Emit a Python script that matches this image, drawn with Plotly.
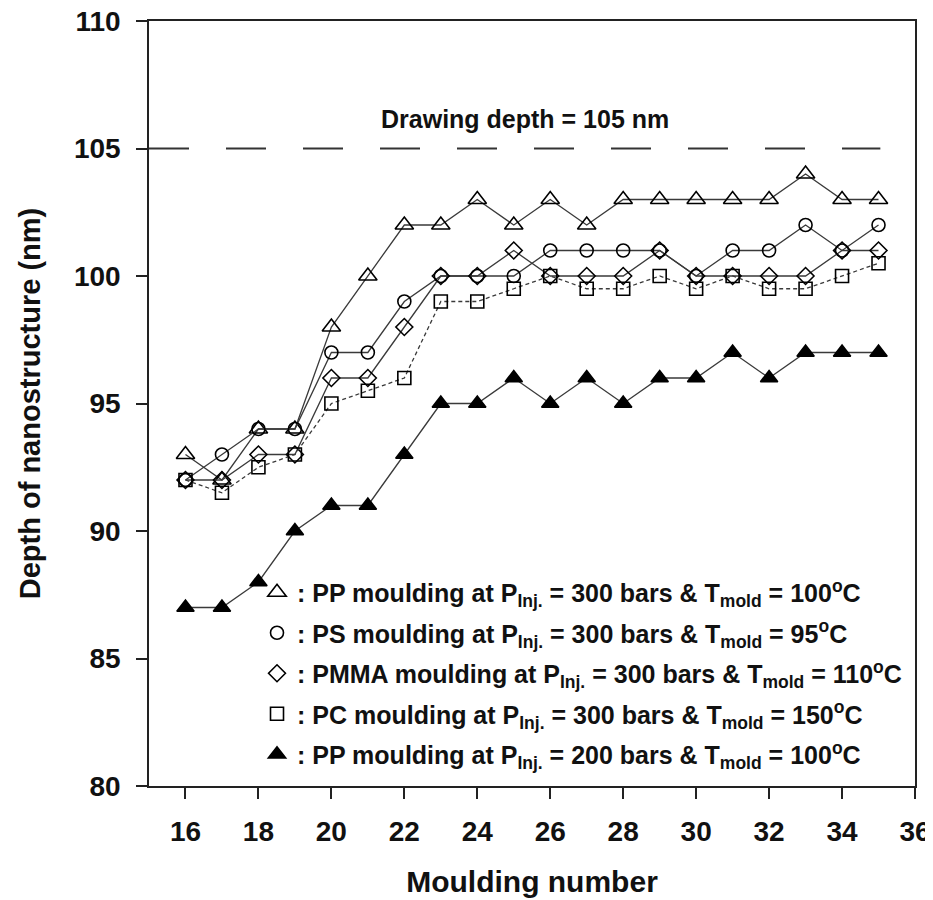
import plotly.graph_objects as go

moulding = list(range(16, 36))

pp300 = [93, 92, 94, 94, 98, 100, 102, 102, 103, 102, 103, 102, 103, 103, 103, 103, 103, 104, 103, 103]
ps300 = [92, 93, 94, 94, 97, 97, 99, 100, 100, 100, 101, 101, 101, 101, 100, 101, 101, 102, 101, 102]
pmma300 = [92, 92, 93, 93, 96, 96, 98, 100, 100, 101, 100, 100, 100, 101, 100, 100, 100, 100, 101, 101]
pc300 = [92, 91.5, 92.5, 93, 95, 95.5, 96, 99, 99, 99.5, 100, 99.5, 99.5, 100, 99.5, 100, 99.5, 99.5, 100, 100.5]
pp200 = [87, 87, 88, 90, 91, 91, 93, 95, 95, 96, 95, 96, 95, 96, 96, 97, 96, 97, 97, 97]

drawing_depth = 105
x_ticks = list(range(16, 37, 2))
y_ticks = list(range(80, 111, 5))

series = [
    ("PP", "300", "100", pp300, "triangle-up-open", 16, "solid"),
    ("PS", "300", "95", ps300, "circle-open", 13, "solid"),
    ("PMMA", "300", "110", pmma300, "diamond-open", 13, "solid"),
    ("PC", "300", "150", pc300, "square-open", 13, "4px,3px"),
    ("PP", "200", "100", pp200, "triangle-up", 15, "solid"),
]

FONT = "Liberation Sans, Arial, sans-serif"
fig = go.Figure()

for i, (mat, p, t, vals, sym, sz, dash) in enumerate(series):
    fig.add_trace(go.Scatter(
        x=moulding, y=vals, mode="lines+markers",
        line=dict(color="#3a3a3a", width=1.3, dash=dash),
        marker=dict(symbol=sym, size=sz, color="black",
                    line=dict(color="black", width=1.6)),
        showlegend=False, cliponaxis=False,
    ))

for i, (mat, p, t, vals, sym, sz, dash) in enumerate(series):
    label = (f": {mat} moulding at P<sub>Inj.</sub> = {p} bars & "
             f"T<sub>mold</sub> = {t}<sup>o</sup>C")
    fig.add_trace(go.Scatter(
        x=[None], y=[None], mode="markers", name=label,
        marker=dict(symbol=sym, size=sz, color="black",
                    line=dict(color="black", width=1.6)),
        legendgroup=f"g{i}",
    ))

fig.add_shape(type="line", xref="x", yref="y", x0=15, x1=35.05,
              y0=drawing_depth, y1=drawing_depth,
              line=dict(color="#333", width=2, dash="40px,37px"))
fig.add_annotation(x=25.3, y=106.15, xref="x", yref="y",
                   text=f"Drawing depth = {drawing_depth} nm", showarrow=False,
                   font=dict(family=FONT, size=25, color="#111", weight="bold"))

# page body has an 8px margin: figure is sized so the plot lands where the reference has it
fig.update_layout(
    width=924, height=890,
    margin=dict(l=141, r=17, t=13, b=112),
    paper_bgcolor="white", plot_bgcolor="white",
    font=dict(family=FONT, color="#111"),
    showlegend=True,
    legend=dict(x=0.141, y=0.283, xanchor="left", yanchor="top",
                bgcolor="rgba(0,0,0,0)", borderwidth=0,
                font=dict(family=FONT, size=25, color="#111", weight="bold"),
                tracegroupgap=5, itemwidth=30),
)

fig.update_xaxes(
    range=[15, 36], tickvals=x_ticks, ticks="outside", ticklen=11, tickwidth=1.5,
    tickcolor="#222", showline=True, linecolor="#222", linewidth=1.5, mirror=True,
    showgrid=False, zeroline=False, ticklabelstandoff=9, automargin=False,
    ticklabeloverflow="allow",
    tickfont=dict(family=FONT, size=28, color="#111", weight="bold"),
    title=dict(text="Moulding number", standoff=25,
               font=dict(family=FONT, size=30, color="#111", weight="bold")),
)
fig.update_yaxes(
    range=[80, 110], tickvals=y_ticks, ticks="outside", ticklen=11, tickwidth=1.5,
    tickcolor="#222", showline=True, linecolor="#222", linewidth=1.5, mirror=True,
    showgrid=False, zeroline=False, ticklabelstandoff=10, automargin=False,
    ticklabeloverflow="allow",
    tickfont=dict(family=FONT, size=28, color="#111", weight="bold"),
    title=dict(text="Depth of nanostructure (nm)", standoff=25,
               font=dict(family=FONT, size=29, color="#111", weight="bold")),
)

fig.write_html("out.html")
